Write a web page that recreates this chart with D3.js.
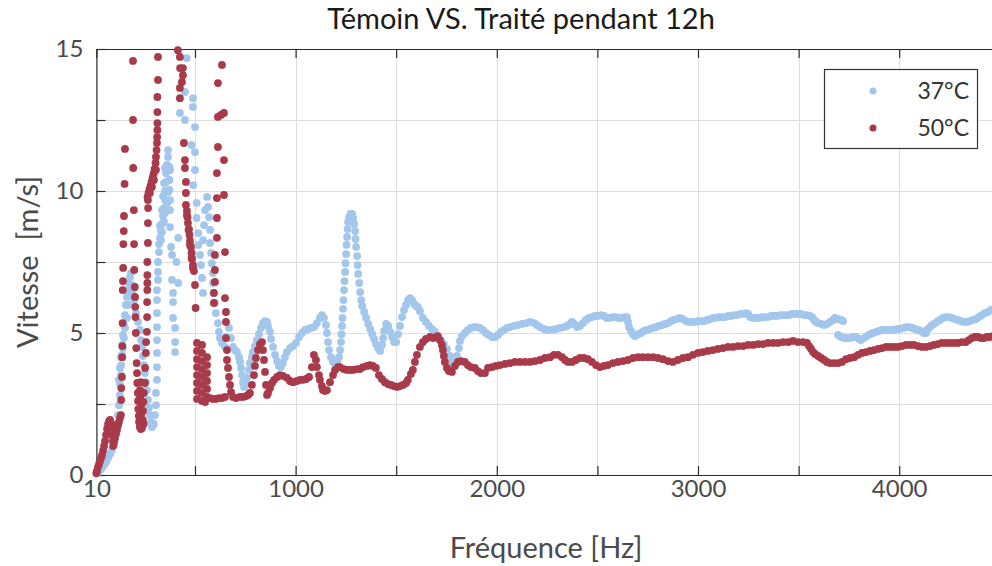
<!DOCTYPE html>
<html>
<head>
<meta charset="utf-8">
<script src="https://cdn.jsdelivr.net/npm/d3@7"></script>
<style>
  body { margin: 0; background: #fff; }
  svg { display: block; }
  text { font-family: Lato, "Open Sans", "DejaVu Sans", sans-serif; }
</style>
</head>
<body>
<svg id="chart" width="992" height="566"></svg>
<script>
// Series labels and colours
const seriesNames = ["37°C", "50°C"];
const seriesColors = ["#a3c6ec", "#a83a4a"];

// Axis ticks (every tick gets a mark, only some get a label)
const xTickValues = [10, 500, 1000, 1500, 2000, 2500, 3000, 3500, 4000, 4500];
const xTickLabels = [10, 1000, 2000, 3000, 4000];
const yTickValues = [0, 2.5, 5, 7.5, 10, 12.5, 15];
const yTickLabels = [0, 5, 10, 15];

// Measured velocity [m/s] against frequency [Hz], 37 °C sample
const points37 = [
[10,0.04],[18,0.11],[28,0.18],[38,0.25],[48,0.35],[58,0.46],[68,0.60],[78,0.74],[87,0.88],[97,1.06],[102,1.23],[107,1.48],[112,1.76],[117,2.11],[122,2.46],[127,2.82],[128,3.17],[132,3.52],[133,3.87],[137,4.23],[138,4.58],[142,4.93],[147,5.28],[152,5.63],[157,5.99],[162,6.27],[167,6.51],[172,6.76],[177,6.97],[182,7.11],
[122,3.35],[127,3.77],[132,4.15],[142,4.47],[147,4.82],[152,5.18],[162,5.53],[167,5.99],[177,6.34],[187,6.69],
[192,6.51],[197,6.16],[207,5.70],[217,5.39],[227,5.11],[232,4.75],[237,4.51],[241,4.19],[247,3.87],[251,3.59],[256,3.27],[261,2.99],[266,2.64],[271,2.36],[276,2.11],[281,1.87],[286,1.69],
[296,1.80],[301,2.11],[306,2.46],[306,2.89],[311,3.35],[311,3.80],[311,4.30],[311,4.75],[311,5.21],[311,5.70],[311,6.16],[311,6.51],[316,6.87],[316,7.15],[316,7.50],[321,7.85],
[321,8.13],[326,8.35],[331,8.59],[336,8.84],[341,9.12],[346,9.40],[351,9.68],[351,10.00],[356,10.32],[356,10.63],[361,10.92],[366,11.20],[366,11.44],
[331,8.27],[336,8.56],[346,8.91],[351,9.23],[361,9.58],[366,9.96],[371,10.39],[376,10.74],[326,8.77],[336,9.33],[341,9.82],[346,10.28],[351,10.81],
[373,10.85],[373,10.39],[373,10.04],[376,9.68],[376,9.33],[376,8.73],[381,8.03],[386,7.75],[386,6.87],[391,6.41],[391,6.09],[391,5.53],[401,5.18],[401,4.68],[401,4.33],[408,7.50],[417,8.35],[417,6.76],
[425,12.75],[450,13.49],[459,14.68],[450,12.50],[483,11.62],[490,13.27],[490,12.96],[500,12.25],[500,11.37],[500,10.74],[491,10.21],[508,9.58],[508,9.05],[516,8.52],[516,8.10],[525,7.75],[530,7.39],[535,6.94],[540,6.41],
[560,9.79],[565,9.44],[570,9.08],[575,8.63],[575,8.17],[580,7.82],[584,7.46],[589,7.11],[589,6.76],[594,6.41],[599,6.06],[604,5.70],[614,5.35],[619,5.04],[624,4.82],
[550,9.33],[545,8.80],[540,8.27],
[634,4.65],[649,4.51],[654,4.86],[669,5.18],[679,4.82],[689,4.51],[699,4.40],[709,4.33],[719,4.15],[724,3.98],[729,3.77],[734,3.52],[739,3.27],[744,3.10],[754,3.20],[759,3.42],[768,3.70],[773,3.94],[783,4.15],[788,4.33],[798,4.54],[808,4.75],[818,4.96],[828,5.18],[838,5.35],[848,5.42],[858,5.39],[863,5.25],[873,5.04],[878,4.79],[888,4.51],[898,4.23],[908,4.01],[917,3.84],[927,3.80],[937,3.94],[947,4.15],[957,4.33],[972,4.47],[987,4.54],[1002,4.65],[1017,4.86],[1032,5.00],[1047,5.11],[1062,5.14],[1077,5.18],[1091,5.21],[1106,5.35],[1121,5.53],[1131,5.63],[1141,5.53],[1151,5.28],[1156,5.00],[1161,4.68],[1166,4.40],[1176,4.15],[1186,3.98],[1196,3.94],[1206,3.98],[1216,4.15],[1221,4.40],[1226,4.68],[1228,4.96],[1231,5.25],[1233,5.53],[1236,5.85],[1238,6.16],[1241,6.51],[1243,6.83],[1246,7.15],[1248,7.46],[1251,7.78],[1253,8.10],[1256,8.38],[1258,8.66],[1261,8.91],[1266,9.08],[1273,9.19],[1281,9.19],[1286,9.05],[1291,8.84],[1296,8.59],[1298,8.31],[1301,8.03],[1306,7.71],[1308,7.39],[1311,7.08],[1316,6.76],[1321,6.44],[1326,6.16],[1331,5.95],[1341,5.74],[1351,5.53],[1361,5.32],[1371,5.14],[1381,4.96],[1390,4.79],[1400,4.61],[1410,4.47],[1420,4.37],[1430,4.58],[1435,4.82],[1440,5.07],[1450,5.32],[1460,5.25],[1470,5.04],[1480,4.86],[1490,4.68],[1500,4.68],[1509,4.96],[1519,5.25],[1529,5.56],[1539,5.81],[1549,5.99],[1559,6.16],[1569,6.23],[1579,6.16],[1589,6.02],[1599,5.95],[1608,5.91],[1618,5.77],[1633,5.53],[1648,5.39],[1663,5.25],[1678,5.14],[1693,5.04],[1707,4.89],[1722,4.75],[1737,4.61],[1752,4.44],[1767,4.19],[1777,3.98],[1782,3.84],[1792,3.98],[1802,4.19],[1812,4.47],[1817,4.72],[1827,4.89],[1842,5.00],[1856,5.11],[1871,5.18],[1886,5.21],[1901,5.21],[1916,5.18],[1931,5.11],[1946,5.00],[1961,4.93],[1976,4.86],[1991,4.86],[2006,4.93],[2021,5.04],[2036,5.11],[2051,5.18],[2066,5.21],[2085,5.25],[2105,5.28],[2125,5.32],[2145,5.35],[2165,5.39],[2185,5.35],[2200,5.28],[2215,5.21],[2234,5.14],[2254,5.11],[2274,5.11],[2294,5.14],[2314,5.18],[2334,5.21],[2349,5.25],[2364,5.32],[2374,5.39],[2384,5.32],[2399,5.21],[2413,5.25],[2428,5.35],[2443,5.46],[2458,5.53],[2473,5.56],[2488,5.60],[2503,5.60],[2518,5.63],[2533,5.60],[2547,5.53],[2562,5.53],[2577,5.56],[2592,5.56],[2607,5.53],[2622,5.53],[2637,5.56],[2647,5.56],[2652,5.39],[2657,5.21],[2667,5.07],[2677,4.96],[2687,4.89],[2702,4.96],[2717,5.00],[2731,5.07],[2746,5.11],[2761,5.14],[2776,5.18],[2791,5.21],[2806,5.25],[2821,5.28],[2836,5.32],[2851,5.35],[2866,5.42],[2880,5.46],[2895,5.49],[2910,5.53],[2925,5.49],[2940,5.42],[2955,5.39],[2970,5.39],[2985,5.39],[3000,5.42],[3015,5.42],[3030,5.42],[3045,5.46],[3060,5.49],[3075,5.53],[3090,5.53],[3104,5.56],[3119,5.56],[3134,5.56],[3149,5.60],[3164,5.60],[3179,5.63],[3194,5.63],[3209,5.67],[3224,5.67],[3239,5.70],[3249,5.67],[3259,5.56],[3274,5.53],[3289,5.53],[3304,5.53],[3319,5.56],[3333,5.56],[3348,5.56],[3363,5.60],[3378,5.60],[3393,5.60],[3408,5.63],[3423,5.63],[3438,5.63],[3453,5.63],[3468,5.67],[3483,5.67],[3497,5.67],[3512,5.67],[3527,5.63],[3542,5.63],[3557,5.60],[3567,5.56],[3577,5.46],[3587,5.39],[3597,5.35],[3612,5.32],[3627,5.28],[3641,5.32],[3656,5.39],[3671,5.46],[3681,5.53],[3696,5.49],[3711,5.46],[3721,5.42],
[3696,4.93],[3711,4.86],[3726,4.82],[3741,4.82],[3756,4.82],[3771,4.86],[3786,4.86],[3800,4.79],[3810,4.75],[3825,4.82],[3840,4.89],[3855,4.96],[3870,5.00],[3885,5.04],[3900,5.07],[3915,5.11],[3930,5.11],[3945,5.11],[3959,5.11],[3974,5.11],[3989,5.14],[4004,5.14],[4019,5.18],[4034,5.21],[4049,5.21],[4064,5.18],[4079,5.14],[4093,5.11],[4108,5.07],[4123,5.00],[4133,5.00],[4143,5.14],[4158,5.25],[4172,5.32],[4187,5.39],[4202,5.46],[4217,5.53],[4232,5.56],[4247,5.56],[4262,5.53],[4277,5.49],[4292,5.46],[4306,5.42],[4321,5.39],[4336,5.39],[4351,5.42],[4366,5.46],[4381,5.49],[4396,5.56],[4411,5.63],[4426,5.70],[4441,5.74],[4456,5.81],[4470,5.84]
];

// Measured velocity [m/s] against frequency [Hz], 50 °C sample
const points50 = [
[10,0.07],[13,0.14],[18,0.28],[23,0.39],[28,0.49],[33,0.60],[38,0.70],[43,0.85],[48,1.02],[53,1.20],[58,1.41],[63,1.62],[68,1.80],[73,1.90],[78,1.94],[83,1.83],[87,1.62],[88,1.41],[92,1.20],[93,1.02],[97,1.13],[102,1.30],[107,1.44],[112,1.58],[117,1.73],[122,1.87],[127,2.01],
[132,2.11],[133,2.64],[134,3.06],[137,3.45],[138,4.15],[139,4.54],[140,5.35],[141,6.51],[142,6.83],[143,7.29],[144,8.13],[146,8.59],[147,9.12],[150,10.25],[152,11.48],
[192,14.58],[192,12.50],[193,10.81],[196,9.33],[197,8.13],[198,7.22],[201,6.62],[202,6.27],[203,5.92],[204,5.56],[206,5.00],[208,4.47],[210,3.94],[212,3.59],[213,3.24],[216,2.89],
[217,2.61],[218,2.32],[221,2.08],[222,1.87],[226,1.69],[231,1.62],[236,1.65],[237,1.90],[233,2.15],[232,2.43],[228,2.71],[227,2.99],[231,3.27],[241,1.94],[242,2.25],[243,2.57],[246,2.89],[245,1.80],
[251,3.24],[252,3.77],[256,4.30],[257,4.68],[261,5.04],[262,5.56],[262,6.09],[263,6.51],[263,6.76],[263,7.04],[263,7.50],[266,8.17],[266,8.87],[267,9.40],
[264,9.79],[269,9.93],[274,10.07],[279,10.18],[284,10.32],[289,10.46],[294,10.60],[299,10.77],[304,10.99],[306,11.20],[309,11.44],[311,11.69],[312,11.90],[313,12.15],[313,12.39],[313,12.78],[313,13.31],[316,13.91],[316,14.72],
[266,9.68],[276,9.93],[286,10.14],[296,10.39],[306,10.74],
[415,14.96],[425,14.72],[426,14.33],[440,14.33],[440,14.08],[435,13.84],[425,13.63],[425,13.27],
[445,11.69],[450,11.09],[450,10.81],[455,10.32],[455,9.93],[455,9.51],[460,9.30],[463,9.08],[465,8.87],[470,8.66],[473,8.45],[475,8.24],[480,8.03],[483,7.82],[485,7.61],[490,7.39],[495,7.18],[500,6.69],[503,5.88],
[460,9.15],[468,8.63],[475,8.10],[483,7.64],[490,7.29],
[510,4.65],[510,4.37],[510,4.08],[510,3.80],[510,3.52],[510,3.24],[510,2.96],[510,2.68],
[535,4.58],[535,4.30],[535,4.01],[535,3.73],[535,3.45],[535,3.17],[535,2.89],[535,2.61],
[560,4.15],[560,3.87],[560,3.59],[560,3.31],[560,3.03],[560,2.75],
[550,2.57],[575,2.71],[589,2.68],[604,2.68],[619,2.71],[634,2.71],[649,2.75],
[594,6.06],[594,6.41],[599,6.80],[599,7.22],[599,7.75],[609,8.35],[609,9.05],[609,9.75],[609,10.63],[614,11.55],[614,12.61],[614,13.80],[634,14.44],
[629,12.68],[644,12.75],[644,11.09],[644,9.86],[649,7.85],[649,6.23],[654,5.74],[654,5.39],[654,4.82],[659,4.40],[659,4.05],
[664,3.77],[669,3.45],[674,3.17],[679,2.92],[689,2.75],[704,2.71],[724,2.75],[739,2.75],[754,2.78],[764,2.82],[773,2.89],[783,3.17],[793,3.52],[798,3.84],[803,4.12],[813,4.40],[823,4.61],[833,4.68],[838,4.40],[843,4.05],[848,3.63],[853,3.17],[858,2.82],[863,2.89],[873,3.06],[883,3.24],[893,3.35],[908,3.45],[922,3.52],[937,3.49],[957,3.42],[972,3.31],[987,3.27],[1007,3.31],[1022,3.35],[1037,3.35],[1052,3.38],[1067,3.45],[1081,3.80],[1091,4.23],[1101,4.05],[1106,3.80],[1116,3.52],[1121,3.35],[1131,3.13],[1136,2.99],[1146,2.96],[1156,2.99],[1171,3.27],[1186,3.52],[1196,3.70],[1211,3.80],[1220,3.80],[1240,3.73],[1255,3.70],[1270,3.70],[1285,3.70],[1305,3.73],[1320,3.73],[1335,3.80],[1355,3.84],[1369,3.87],[1384,3.84],[1399,3.77],[1414,3.52],[1429,3.38],[1444,3.27],[1459,3.20],[1474,3.17],[1489,3.13],[1504,3.10],[1519,3.13],[1534,3.17],[1549,3.24],[1558,3.35],[1573,3.56],[1583,3.70],[1593,3.98],[1603,4.23],[1618,4.51],[1633,4.68],[1648,4.79],[1668,4.86],[1683,4.82],[1698,4.86],[1707,4.89],[1717,4.75],[1727,4.58],[1732,4.40],[1737,4.19],[1742,3.98],[1752,3.77],[1762,3.66],[1777,3.63],[1792,3.84],[1807,3.98],[1822,4.01],[1841,3.98],[1856,3.87],[1871,3.80],[1891,3.77],[1906,3.66],[1921,3.59],[1941,3.59],[1956,3.77],[1976,3.80],[1996,3.84],[2016,3.87],[2041,3.91],[2066,3.94],[2090,3.98],[2115,3.98],[2140,3.98],[2165,3.98],[2190,4.01],[2215,4.05],[2239,4.12],[2264,4.15],[2284,4.23],[2304,4.23],[2324,4.15],[2339,4.05],[2354,3.98],[2374,3.98],[2393,4.05],[2413,4.12],[2433,4.12],[2453,4.08],[2473,3.98],[2493,3.87],[2513,3.80],[2533,3.84],[2552,3.87],[2577,3.94],[2602,3.98],[2627,4.01],[2652,4.05],[2677,4.12],[2702,4.15],[2726,4.15],[2751,4.15],[2776,4.15],[2801,4.12],[2826,4.08],[2851,4.01],[2875,3.98],[2900,4.05],[2925,4.12],[2950,4.15],[2975,4.23],[3000,4.30],[3024,4.33],[3049,4.37],[3074,4.40],[3099,4.44],[3124,4.47],[3149,4.51],[3174,4.51],[3199,4.54],[3224,4.54],[3249,4.58],[3274,4.58],[3299,4.61],[3323,4.61],[3348,4.65],[3373,4.65],[3398,4.65],[3423,4.68],[3448,4.68],[3472,4.72],[3497,4.68],[3522,4.68],[3542,4.65],[3552,4.54],[3562,4.44],[3572,4.33],[3582,4.26],[3597,4.19],[3612,4.12],[3627,4.05],[3641,3.98],[3656,3.94],[3676,3.94],[3696,3.94],[3716,3.98],[3736,4.08],[3756,4.12],[3776,4.15],[3796,4.23],[3815,4.30],[3835,4.33],[3855,4.37],[3875,4.40],[3895,4.44],[3915,4.47],[3935,4.51],[3954,4.51],[3974,4.51],[3994,4.51],[4014,4.54],[4034,4.58],[4054,4.58],[4073,4.58],[4093,4.54],[4113,4.51],[4133,4.51],[4153,4.54],[4172,4.58],[4192,4.61],[4212,4.65],[4232,4.65],[4252,4.65],[4272,4.65],[4292,4.65],[4311,4.68],[4331,4.68],[4346,4.75],[4361,4.82],[4376,4.86],[4391,4.86],[4406,4.82],[4421,4.82],[4436,4.86],[4451,4.86],[4466,4.89]
];

const seriesData = [points37, points50];

const svg = d3.select("#chart");
const W = 992, H = 566;
svg.append("rect").attr("width", W).attr("height", H).attr("fill", "#fff");

// Plot box: the right edge lies just past the visible canvas
const x = d3.scaleLinear().domain([10, 4500]).range([96.4, 999.8]);
const y = d3.scaleLinear().domain([0, 15]).range([475, 49]);
const [x0, x1] = x.range();
const [yb, yt] = y.range();

const axisColor = "#2b2b2b";
const labelColor = "#4a4a4a";

// Grid
const grid = svg.append("g").attr("stroke", "#dedede").attr("stroke-width", 1);
grid.selectAll("line.gx").data(xTickValues.filter(d => d > 10 && d < 4500)).join("line")
  .attr("x1", d => Math.round(x(d)) + 0.5).attr("x2", d => Math.round(x(d)) + 0.5)
  .attr("y1", yt).attr("y2", yb);
grid.selectAll("line.gy").data(yTickValues.filter(d => d > 0 && d < 15)).join("line")
  .attr("x1", x0).attr("x2", x1)
  .attr("y1", d => Math.round(y(d)) + 0.5).attr("y2", d => Math.round(y(d)) + 0.5);

// Axes with inward ticks
function styleAxis(g) {
  g.select(".domain").attr("stroke", axisColor).attr("stroke-width", 1.2);
  g.selectAll(".tick line").attr("stroke", axisColor).attr("stroke-width", 1.2);
  g.selectAll(".tick text").attr("fill", labelColor).style("font-size", "24px");
}
svg.append("g").attr("transform", `translate(0,${yb})`)
  .call(d3.axisBottom(x).tickValues(xTickValues).tickSizeInner(-9).tickSizeOuter(0).tickPadding(5)
    .tickFormat(d => xTickLabels.includes(d) ? String(d) : ""))
  .call(styleAxis);
svg.append("g").attr("transform", `translate(0,${yt})`)
  .call(d3.axisTop(x).tickValues(xTickValues).tickSizeInner(-9).tickSizeOuter(0).tickFormat(""))
  .call(styleAxis);
svg.append("g").attr("transform", `translate(${x0},0)`)
  .call(d3.axisLeft(y).tickValues(yTickValues).tickSizeInner(-9).tickSizeOuter(0).tickPadding(13)
    .tickFormat(d => yTickLabels.includes(d) ? String(d) : ""))
  .call(styleAxis);
svg.selectAll(".tick text").attr("font-family", "Lato, 'Open Sans', sans-serif");

// Scatter points: 37 °C underneath, 50 °C on top
seriesData.forEach((pts, i) => {
  svg.append("g").attr("fill", seriesColors[i])
    .selectAll("circle").data(pts).join("circle")
    .attr("cx", d => x(d[0])).attr("cy", d => y(d[1])).attr("r", 3.9);
});

// Title and axis labels
svg.append("text").attr("x", 521).attr("y", 29).attr("text-anchor", "middle")
  .attr("fill", "#1a1a1a").style("font-size", "29px").text("Témoin VS. Traité pendant 12h");
svg.append("text").attr("x", 546).attr("y", 558).attr("text-anchor", "middle")
  .attr("fill", labelColor).style("font-size", "29px").text("Fréquence [Hz]");
svg.append("text").attr("transform", `translate(38,${(yt + yb) / 2}) rotate(-90)`)
  .attr("text-anchor", "middle").attr("fill", labelColor).style("font-size", "29px")
  .style("white-space", "pre").text("Vitesse  [m/s]");

// Legend
const lg = svg.append("g");
lg.append("rect").attr("x", 824.5).attr("y", 69.5).attr("width", 153).attr("height", 79)
  .attr("fill", "#fff").attr("stroke", "#333").attr("stroke-width", 1.2);
seriesNames.forEach((name, i) => {
  const cy = 91 + i * 37;
  lg.append("circle").attr("cx", 873).attr("cy", cy).attr("r", 3.5).attr("fill", seriesColors[i]);
  lg.append("text").attr("x", 969).attr("y", cy + 8).attr("text-anchor", "end")
    .attr("fill", "#333").style("font-size", "23px").text(name);
});
</script>
</body>
</html>
